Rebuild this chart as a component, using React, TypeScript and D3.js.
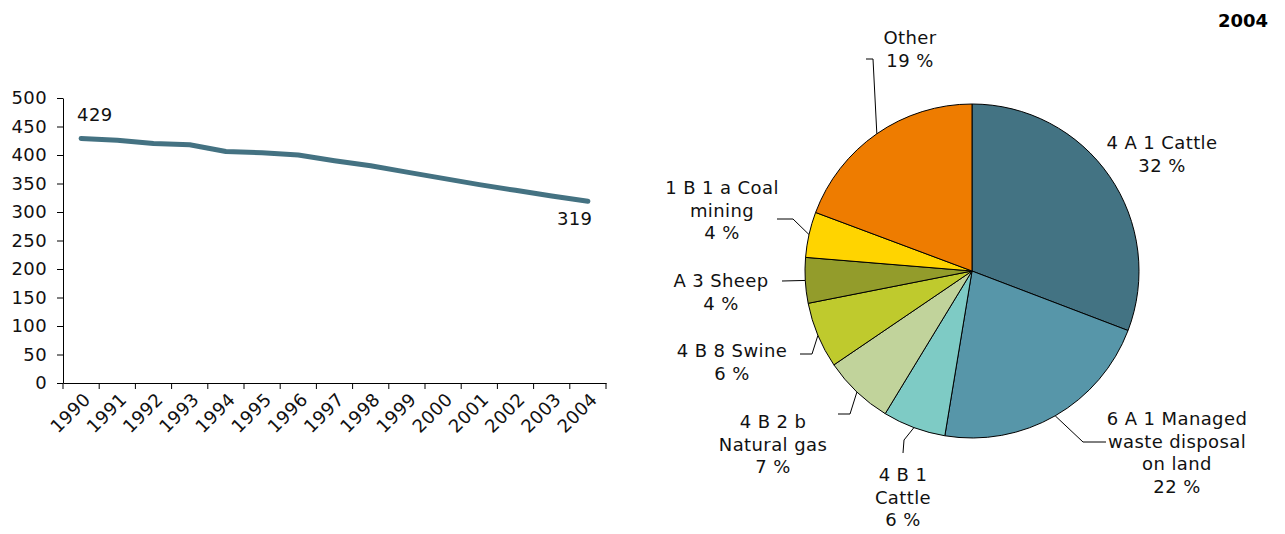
import React, { useEffect, useRef } from "react";
import { select, scaleBand, scaleLinear, axisBottom, axisLeft, line, pie, arc } from "d3";

const years = ["1990", "1991", "1992", "1993", "1994", "1995", "1996", "1997", "1998", "1999", "2000", "2001", "2002", "2003", "2004"];
const emissions = [429, 426, 420, 418, 406, 404, 400, 390, 381, 370, 359, 348, 338, 328, 319];
const yTicks = [0, 50, 100, 150, 200, 250, 300, 350, 400, 450, 500];

const sectorNames = [
  ["4 A 1 Cattle"],
  ["6 A 1 Managed", "waste disposal", "on land"],
  ["4 B 1", "Cattle"],
  ["4 B 2 b", "Natural gas"],
  ["4 B 8 Swine"],
  ["A 3 Sheep"],
  ["1 B 1 a Coal", "mining"],
  ["Other"],
];
const sectorPct = ["32 %", "22 %", "6 %", "7 %", "6 %", "4 %", "4 %", "19 %"];
const sectorShare = [30.8, 21.8, 6.1, 6.8, 6.4, 4.4, 4.4, 19.3];
const sectorColors = ["#437383", "#5796a9", "#7ecbc5", "#c1d39b", "#bfca2d", "#939c2b", "#ffd400", "#ee7c00"];

// label placement: text centre x, first line y, leader points after the rim point
const labelPos = [
  { x: 1162, y: 142, leader: [] as number[][] },
  { x: 1177, y: 418, leader: [[1083, 442], [1106, 442]] },
  { x: 903, y: 474, leader: [[904, 440], [903, 453]] },
  { x: 773, y: 421, leader: [[850, 414], [838, 414]] },
  { x: 732, y: 350, leader: [[812, 354], [800, 354]] },
  { x: 721, y: 280, leader: [[782, 281]] },
  { x: 722, y: 187, leader: [[793, 219], [777, 219]] },
  { x: 910, y: 37, leader: [[873, 59], [866, 59]] },
];

const FONT = "'DejaVu Sans', Verdana, sans-serif";
const FS = 18;
const LS = "0.4px";

const App: React.FC = () => {
  const svgRef = useRef<SVGSVGElement | null>(null);

  useEffect(() => {
    const svg = select(svgRef.current);
    svg.selectAll("*").remove();

    // ---- line chart ----
    const left = 63, right = 606, top = 98, bottom = 383;
    const x = scaleBand().domain(years).range([left, right]);
    const y = scaleLinear().domain([0, 500]).range([bottom, top]);

    const gx = svg
      .append("g")
      .attr("transform", `translate(0,${bottom})`)
      .call(axisBottom(x).tickSize(6).tickSizeOuter(0).tickFormat(() => ""));
    gx.selectAll(".tick line").attr("transform", `translate(${x.bandwidth() / 2},0)`);
    gx.append("line").attr("x1", left).attr("x2", left).attr("y1", 0).attr("y2", 6).attr("stroke", "#000");
    gx.select(".domain").attr("stroke", "#000");

    svg
      .append("g")
      .selectAll("text")
      .data(years)
      .join("text")
      .attr("transform", (d) => `translate(${(x(d) as number) + x.bandwidth() / 2 + 7},${bottom + 14}) rotate(-45)`)
      .attr("text-anchor", "end")
      .attr("dominant-baseline", "middle")
      .attr("font-family", FONT)
      .attr("font-size", FS)
      .attr("letter-spacing", LS)
      .attr("fill", "#111")
      .text((d) => d);

    const gy = svg
      .append("g")
      .attr("transform", `translate(${left},0)`)
      .call(axisLeft(y).tickValues(yTicks).tickSize(6).tickSizeOuter(0).tickPadding(10));
    gy.select(".domain").attr("stroke", "#000");
    gy.selectAll("text")
      .attr("font-family", FONT)
      .attr("font-size", FS)
      .attr("letter-spacing", LS)
      .attr("fill", "#111");

    const path = line<number>()
      .x((_, i) => (x(years[i]) as number) + x.bandwidth() / 2)
      .y((d) => y(d));
    svg
      .append("path")
      .datum(emissions)
      .attr("d", path)
      .attr("fill", "none")
      .attr("stroke", "#447282")
      .attr("stroke-width", 5)
      .attr("stroke-linecap", "round")
      .attr("stroke-linejoin", "round");

    const firstX = (x(years[0]) as number) + x.bandwidth() / 2;
    const lastX = (x(years[years.length - 1]) as number) + x.bandwidth() / 2;
    svg
      .append("text")
      .attr("x", firstX - 4)
      .attr("y", y(emissions[0]) - 17)
      .attr("font-family", FONT)
      .attr("font-size", FS)
      .attr("letter-spacing", LS)
      .attr("fill", "#111")
      .text(String(emissions[0]));
    svg
      .append("text")
      .attr("x", lastX - 31)
      .attr("y", y(emissions[emissions.length - 1]) + 24)
      .attr("font-family", FONT)
      .attr("font-size", FS)
      .attr("letter-spacing", LS)
      .attr("fill", "#111")
      .text(String(emissions[emissions.length - 1]));

    // ---- pie ----
    const cx = 972, cy = 271, r = 167;
    const arcs = pie<number>().sort(null).value((d) => d)(sectorShare);
    const arcGen = arc<any>().innerRadius(0).outerRadius(r);
    const pg = svg.append("g").attr("transform", `translate(${cx},${cy})`);
    pg.selectAll("path")
      .data(arcs)
      .join("path")
      .attr("d", arcGen)
      .attr("fill", (_, i) => sectorColors[i])
      .attr("stroke", "#000")
      .attr("stroke-width", 1);

    arcs.forEach((a, i) => {
      const lp = labelPos[i];
      if (lp.leader.length) {
        const mid = (a.startAngle + a.endAngle) / 2;
        const rim = [cx + r * Math.sin(mid), cy - r * Math.cos(mid)];
        const pts = [rim, ...lp.leader];
        svg
          .append("path")
          .attr("d", line()(pts as [number, number][]))
          .attr("fill", "none")
          .attr("stroke", "#000")
          .attr("stroke-width", 1);
      }
      const lines = [...sectorNames[i], sectorPct[i]];
      const t = svg
        .append("text")
        .attr("text-anchor", "middle")
        .attr("font-family", FONT)
        .attr("font-size", FS)
        .attr("letter-spacing", LS)
        .attr("fill", "#111");
      lines.forEach((s, j) => {
        t.append("tspan").attr("x", lp.x).attr("y", lp.y + 7 + j * 22.5).text(s);
      });
    });

    svg
      .append("text")
      .attr("x", 1268)
      .attr("y", 27)
      .attr("text-anchor", "end")
      .attr("font-family", FONT)
      .attr("font-size", 18)
      .attr("font-weight", "bold")
      .attr("fill", "#000")
      .text("2004");
  }, []);

  return (
    <svg
      ref={svgRef}
      width={1285}
      height={534}
      style={{ position: "absolute", left: 0, top: 0, background: "#fff" }}
    />
  );
};

export default App;
